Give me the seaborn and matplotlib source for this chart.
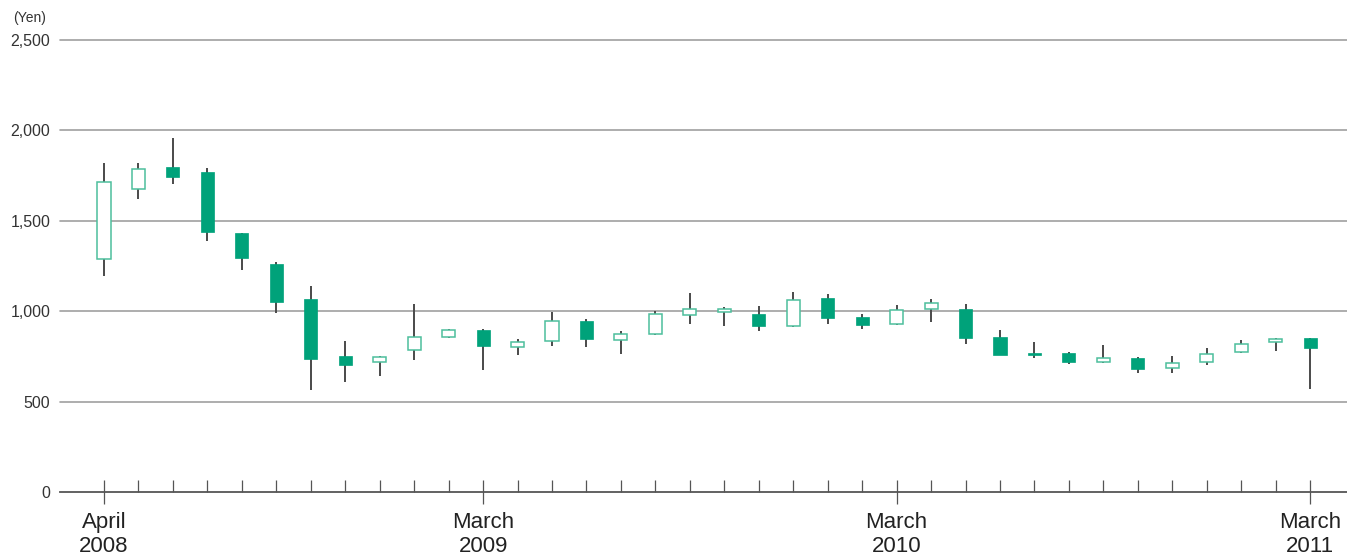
import matplotlib.pyplot as plt
import seaborn as sns
import numpy as np
import pandas as pd

# Monthly share price, April 2008 - March 2011 (yen)
months = ["2008-04", "2008-05", "2008-06", "2008-07", "2008-08", "2008-09",
          "2008-10", "2008-11", "2008-12", "2009-01", "2009-02", "2009-03",
          "2009-04", "2009-05", "2009-06", "2009-07", "2009-08", "2009-09",
          "2009-10", "2009-11", "2009-12", "2010-01", "2010-02", "2010-03",
          "2010-04", "2010-05", "2010-06", "2010-07", "2010-08", "2010-09",
          "2010-10", "2010-11", "2010-12", "2011-01", "2011-02", "2011-03"]
opens = [1287, 1676, 1798, 1770, 1432, 1261, 1067, 752, 717, 787, 856, 896,
         800, 837, 944, 841, 872, 979, 997, 985, 920, 1073, 968, 929,
         1010, 1012, 857, 771, 769, 721, 741, 684, 717, 776, 828, 852]
highs = [1818, 1818, 1958, 1790, 1432, 1272, 1139, 833, 752, 1040, 902, 902,
         844, 994, 955, 889, 999, 1099, 1021, 1031, 1106, 1095, 983, 1036,
         1067, 1040, 896, 830, 774, 811, 745, 750, 795, 841, 853, 852]
lows = [1193, 1622, 1702, 1390, 1230, 992, 562, 607, 643, 728, 850, 673,
        756, 809, 804, 765, 867, 931, 916, 890, 911, 931, 903, 922,
        939, 820, 759, 743, 706, 712, 656, 658, 704, 769, 780, 568]
closes = [1713, 1785, 1744, 1440, 1296, 1053, 737, 704, 745, 857, 894, 809,
          831, 944, 848, 872, 983, 1010, 1010, 920, 1060, 964, 925, 1005,
          1044, 854, 759, 759, 721, 739, 682, 713, 763, 819, 848, 798]
major_labels = {"2008-04": "April\n2008", "2009-03": "March\n2009",
                "2010-03": "March\n2010", "2011-03": "March\n2011"}
ytick_values = [0, 500, 1000, 1500, 2000, 2500]

df = pd.DataFrame({"month": months, "open": opens, "high": highs,
                   "low": lows, "close": closes})
df["x"] = np.arange(len(df))
df["up"] = df["close"] >= df["open"]

sns.set_theme(style="white")
plt.rcParams['font.family'] = ['Liberation Sans', 'DejaVu Sans']

GREEN = '#00a27a'
LIGHT_GREEN = '#4dbf9c'
WICK = '#4a4a4a'
GRID = '#a0a0a0'
TEXT = '#333333'

fig = plt.figure(figsize=(13.47, 5.56), dpi=100)
ax = fig.add_axes([60 / 1347, 64 / 556, 1287 / 1347, 452 / 556])

# gridlines (not clipped so the 2,500 line is drawn in full)
for v in ytick_values[1:]:
    ax.axhline(v, color=GRID, lw=1.2, zorder=1, clip_on=False)

# wicks
ax.vlines(df["x"], df["low"], df["high"], color=WICK, lw=1.4, zorder=2)

# bodies
body_w = 0.38
bottoms = df[["open", "close"]].min(axis=1)
heights = (df["close"] - df["open"]).abs()
up = df[df["up"]]
down = df[~df["up"]]
ax.bar(up["x"], heights[df["up"]], bottom=bottoms[df["up"]], width=body_w,
       facecolor='white', edgecolor=LIGHT_GREEN, linewidth=1.1, zorder=3)
ax.bar(down["x"], heights[~df["up"]], bottom=bottoms[~df["up"]], width=body_w,
       facecolor=GREEN, edgecolor=GREEN, linewidth=0.5, zorder=3)

ax.set_xlim(-1.277, 36.07)
ax.set_ylim(0, 2500)

# y axis
ax.set_yticks(ytick_values, [f"{v:,}" for v in ytick_values])
ax.tick_params(axis='y', length=0, pad=7, labelsize=11.5, labelcolor=TEXT)
ax.text(-0.0233, 1.049, "(Yen)", transform=ax.transAxes, ha='center', va='center',
        fontsize=10, color=TEXT)

# x axis
major_idx = [months.index(m) for m in major_labels]
minor_idx = [i for i in range(len(months)) if i not in major_idx]
ax.set_xticks(major_idx, list(major_labels.values()))
ax.set_xticks(minor_idx, minor=True)
ax.tick_params(axis='x', which='major', direction='inout', length=16.6, width=0.9,
               color='#555555', pad=6, bottom=True)
ax.tick_params(axis='x', which='minor', direction='in', length=8.6, width=0.9,
               color='#555555', bottom=True)
for lab in ax.get_xticklabels():
    lab.set_fontsize(16)
    lab.set_color('#222222')
    lab.set_linespacing(1.22)

sns.despine(ax=ax, left=True, top=True, right=True)
ax.spines['bottom'].set_color('#555555')
ax.spines['bottom'].set_linewidth(1.3)
ax.spines['bottom'].set_zorder(4)

fig.savefig("out.png", dpi=100)
